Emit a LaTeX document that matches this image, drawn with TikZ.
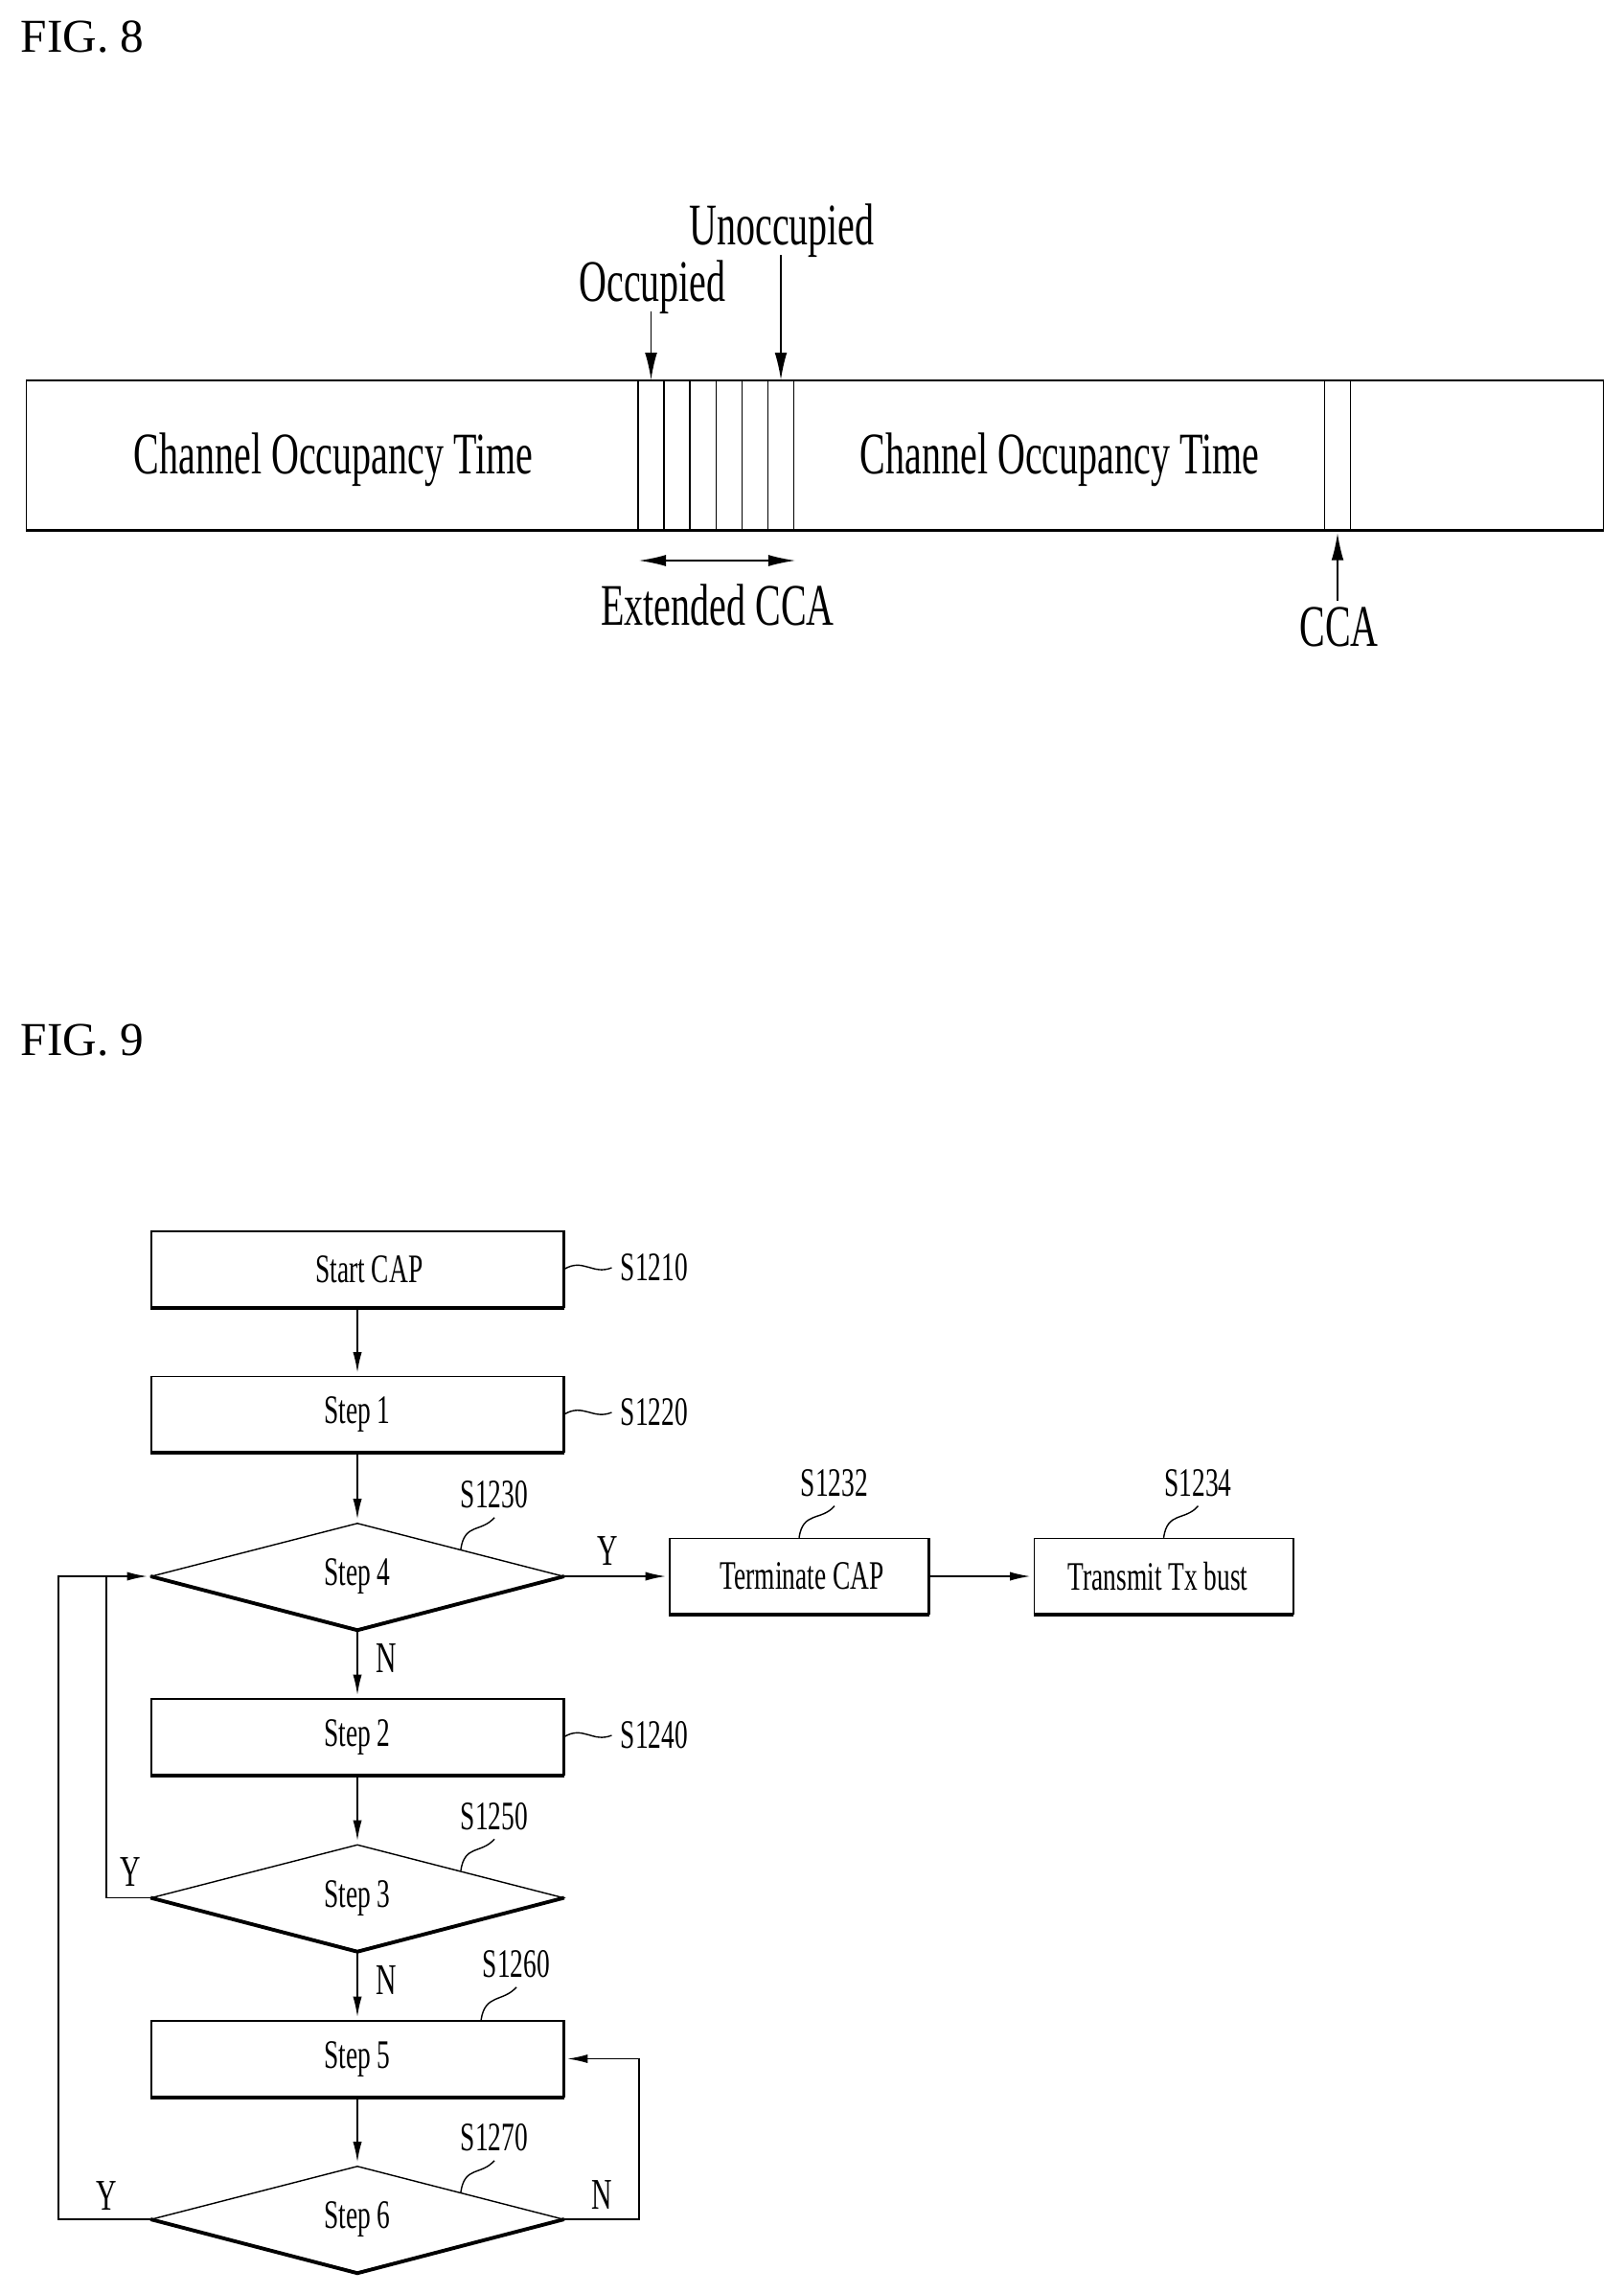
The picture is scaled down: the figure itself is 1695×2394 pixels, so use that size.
\documentclass[tikz,border=0pt]{standalone}
\usepackage{fontspec}
\setmainfont{Liberation Serif}
\newfontfamily\narrowfont[FakeStretch=0.65]{Liberation Serif}
\usetikzlibrary{arrows.meta,shapes.geometric}
\newcommand{\thinw}{0.4pt}
\newcommand{\heavyw}{1.1pt}
\newcommand{\sidew}{0.6pt}
\tikzset{
    figtitle/.style = {font=\fontsize{14}{16}\selectfont, anchor=west, inner sep=0pt},
    barbox/.style = {draw, line width=\thinw, inner sep=0pt, minimum width=16.45cm, minimum height=1.56cm},
    slotbox/.style = {draw, line width=\thinw, inner sep=0pt, minimum width=0.27cm, minimum height=1.56cm},
    bigtext/.style = {font=\narrowfont\fontsize{17.5}{20}\selectfont, inner sep=2.5pt},
    smalltext/.style = {font=\narrowfont\fontsize{12}{14}\selectfont, inner sep=2.5pt},
    yntext/.style = {font=\narrowfont\fontsize{13}{15}\selectfont, inner sep=0pt},
    stepbox/.style = {draw, line width=\thinw, inner sep=0pt, minimum width=4.3cm, minimum height=0.79cm, font=\narrowfont\fontsize{12}{14}\selectfont},
    sidebox/.style = {stepbox, minimum width=2.7cm},
    testbox/.style = {draw, diamond, line width=\thinw, inner sep=0pt, minimum width=4.3cm, minimum height=1.11cm, font=\narrowfont\fontsize{12}{14}\selectfont},
    heavyedge/.style = {line width=\heavyw},
    sideedge/.style = {line width=\sidew},
    arr/.style = {line width=\thinw, -{Latex[length=6pt,width=2.6pt]}, shorten >=1pt},
    bigarr/.style = {line width=\thinw, -{Latex[length=8pt,width=3.6pt]}},
    plain/.style = {line width=\thinw},
}
\begin{document}
\begin{tikzpicture}[x=0.01cm,y=-0.01cm]
    \useasboundingbox (0,0) rectangle (1695,2394);

    \begin{scope}
        \node[figtitle] (figa) at (21,38) {FIG. 8};
        \node[barbox] (bar) at (850.5,475) {};
        \foreach \i in {0,1,2,3,4,5} {
            \pgfmathsetmacro{\slotx}{679.5 + 27.1 * \i}
            \node[slotbox] (slot\i) at (\slotx,475) {};
        }
        \node[slotbox] (slotc) at (1396,475) {};
        \node[bigtext] (cota) at (348,480) {Channel Occupancy Time};
        \node[bigtext] (cotb) at (1106,480) {Channel Occupancy Time};
        \node[bigtext] (occ) at (681,299.5) {Occupied};
        \node[bigtext] (unocc) at (816,241) {Unoccupied};
        \node[bigtext] (ext) at (749,631) {Extended CCA};
        \node[bigtext] (cca) at (1397.5,654) {CCA};
        \draw[bigarr] ([yshift=3.4pt]occ.south -| slot0.north) -- (slot0.north);
        \draw[bigarr] ([yshift=3.4pt]unocc.south -| slot5.north) -- (slot5.north);
        \draw[bigarr] ([yshift=-0.8pt]cca.north -| slotc.south) -- ([yshift=-0.8pt]slotc.south);
        \coordinate (extl) at (667,585);
        \coordinate (extr) at (830,585);
        \draw[bigarr, {Latex[length=8pt,width=3.4pt]}-{Latex[length=8pt,width=3.4pt]}] (extl) -- (extr);
        \draw[sideedge] (bar.south west) -- (bar.south east);
    \end{scope}

    \begin{scope}
        \node[figtitle] (figb) at (21,1086) {FIG. 9};
        \node[stepbox] (start) at (373,1324.5) {\hspace*{7pt}Start CAP};
        \node[stepbox] (step1) at (373,1476) {Step 1};
        \node[testbox] (step4) at (373,1645) {Step 4};
        \node[stepbox] (step2) at (373,1812.5) {Step 2};
        \node[testbox] (step3) at (373,1980.5) {Step 3};
        \node[stepbox] (step5) at (373,2148.5) {Step 5};
        \node[testbox] (step6) at (373,2316) {Step 6};
        \node[sidebox] (term) at (834,1645) {\hspace*{1.7pt}Terminate CAP};
        \node[sidebox] (trans) at (1214.5,1645) {Transmit Tx bust\hspace*{3.4pt}};

        \foreach \b in {start,step1,step2,step5,term,trans} {
            \draw[heavyedge] (\b.south west) -- (\b.south east);
            \draw[sideedge] (\b.south east) -- (\b.north east);
        }
        \foreach \d in {step4,step3,step6} {
            \draw[heavyedge] (\d.west) -- (\d.south) -- (\d.east);
        }

        \node[smalltext] (s1210) at (683,1323) {S1210};
        \node[smalltext] (s1220) at (683,1474) {S1220};
        \node[smalltext] (s1230) at (516,1560) {S1230};
        \node[smalltext] (s1232) at (871,1548) {S1232};
        \node[smalltext] (s1234) at (1250.5,1548) {S1234};
        \node[smalltext] (s1240) at (683,1811) {S1240};
        \node[smalltext] (s1250) at (516,1895.5) {S1250};
        \node[smalltext] (s1260) at (539,2050) {S1260};
        \node[smalltext] (s1270) at (516,2231) {S1270};

        \foreach \b/\l in {start/s1210,step1/s1220,step2/s1240} {
            \draw[plain] (\b.east) .. controls +(20,-12) and +(-20,8) .. (\l.west);
        }
        \foreach \b/\l in {term/s1232,trans/s1234} {
            \draw[plain] (\b.north) .. controls +(4,-28) and +(-14,16) .. (\l.south);
        }
        \foreach \d/\l in {step4/s1230,step3/s1250,step6/s1270} {
            \draw[plain] (\d.north east) .. controls +(4,-28) and +(-14,16) .. (\l.south);
        }
        \draw[plain] ([xshift=1.29cm]step5.north) .. controls +(4,-28) and +(-14,16) .. (s1260.south);

        \draw[arr] (start) -- (step1);
        \draw[arr] (step1) -- (step4);
        \draw[arr] (step4) -- (step2);
        \draw[arr] (step2) -- (step3);
        \draw[arr] (step3) -- (step5);
        \draw[arr] (step5) -- (step6);
        \draw[arr] (step4) -- (term);
        \draw[arr] (term) -- (trans);

        \coordinate (inner) at (111,1645);
        \coordinate (outer) at (61,1645);
        \coordinate (rightl) at (667,2148.5);
        \draw[plain] (step3.west) -| (inner);
        \draw[arr] (step6.west) -| (outer) -- (step4.west);
        \draw[arr] (step6.east) -| (rightl) -- (step5.east);

        \node[yntext] (ya) at (634,1618.5) {Y};
        \node[yntext] (na) at (403,1730.5) {N};
        \node[yntext] (yb) at (136.5,1953.5) {Y};
        \node[yntext] (nb) at (403,2066.5) {N};
        \node[yntext] (yc) at (111.5,2292) {Y};
        \node[yntext] (nc) at (628,2291) {N};
    \end{scope}
\end{tikzpicture}
\end{document}
